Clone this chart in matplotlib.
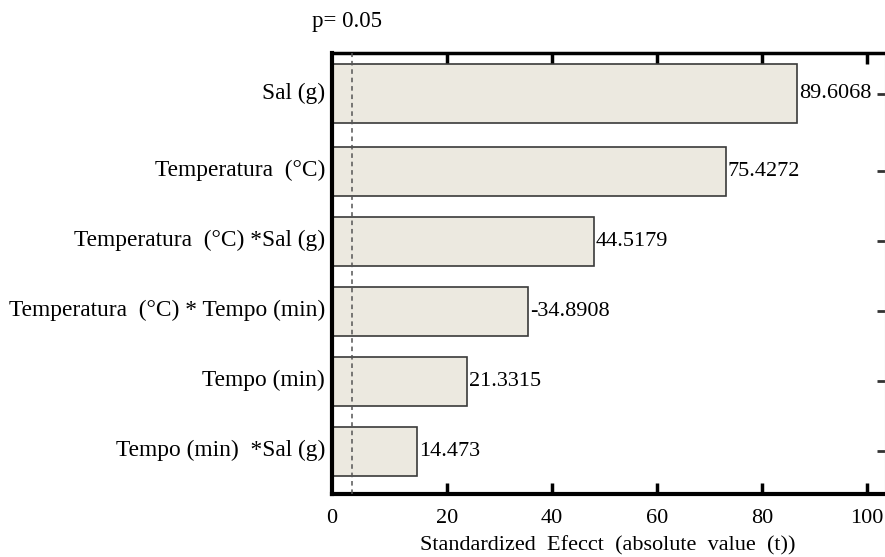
import matplotlib
matplotlib.use("Agg")
import matplotlib.pyplot as plt
from matplotlib.transforms import ScaledTranslation

# ---- data ----
categories = ["Sal (g)", "Temperatura  (°C)", "Temperatura  (°C) *Sal (g)",
              "Temperatura  (°C) * Tempo (min)", "Tempo (min)", "Tempo (min)  *Sal (g)"]
bar_values = [86.7, 73.1, 48.0, 35.5, 23.9, 14.3]
value_labels = ["89.6068", "75.4272", "44.5179", "-34.8908", "21.3315", "14.473"]
p_value_line = 1.9
xticks = [0, 20, 40, 60, 80, 100]
xtick_labels = ["0", "20", "40", "60", "80", "100"]

plt.rcParams['font.family'] = ['Liberation Serif', 'DejaVu Serif']
FS = 16

W, H = 885, 557
fig = plt.figure(figsize=(W / 100, H / 100), dpi=100)
ax = fig.add_axes([332 / W, 1 - 493.5 / H, (884.5 - 332) / W, (493.5 - 53.5) / H])

xmin, xmax = -1.9, 103.3
n = len(categories)
ypos = list(range(n - 1, -1, -1))
heights = [0.7] * n
centers = list(ypos)
# top bar is drawn taller in the reference
heights[0] = 0.843
centers[0] = ypos[0] + 0.107

widths = [v - xmin for v in bar_values]
ax.barh(centers, widths, left=xmin, height=heights, color='#ECE9E0',
        edgecolor='#3a3a3a', linewidth=1.2, zorder=2)

for y, v, lab in zip(centers, bar_values, value_labels):
    ax.text(v + 0.3, y, lab, ha='left', va='center', fontsize=FS, color='black', zorder=3)

ax.axvline(p_value_line, color='#555555', linestyle=(0, (3, 2.5)), linewidth=1.1, zorder=3)

ax.set_xlim(xmin, xmax)
ax.set_ylim(-0.607, 5.68)

ax.set_xticks(xticks)
ax.set_xticklabels(xtick_labels, fontsize=FS)
ax.tick_params(axis='x', direction='in', length=8, width=2.5, top=True, bottom=True,
               pad=11, colors='black')
for t in ax.xaxis.get_major_ticks():
    if t.get_loc() == 0:
        t.tick1line.set_visible(False)
        t.tick2line.set_visible(False)
        t.label1.set_transform(t.label1.get_transform() +
                               ScaledTranslation(-10 / 100, 0, fig.dpi_scale_trans))

ax.set_yticks(centers)
ax.set_yticklabels(categories, fontsize=16.8)
ax.tick_params(axis='y', left=False, right=True, direction='in', length=6, width=2,
               color='#333333', pad=5)
for lab in ax.get_yticklabels():
    lab.set_transform(lab.get_transform() + ScaledTranslation(0, 3 / 100, fig.dpi_scale_trans))

for s in ['left', 'bottom']:
    ax.spines[s].set_linewidth(3)
ax.spines['top'].set_linewidth(2.5)
ax.spines['right'].set_linewidth(0.8)
ax.spines['right'].set_color('#c0c0c0')

ax.set_xlabel("Standardized  Efecct  (absolute  value  (t))", fontsize=FS, labelpad=6)

fig.text(347 / W, 1 - 22 / H, "p= 0.05", ha='center', va='center', fontsize=16.5)

fig.savefig("out.png", dpi=100)
